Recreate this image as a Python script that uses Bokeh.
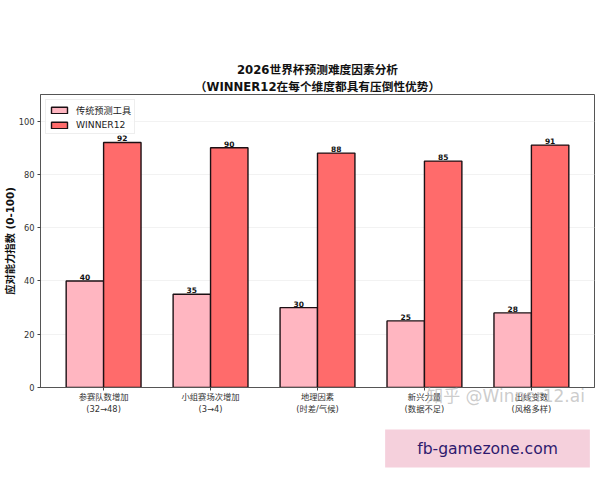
from bokeh.core.properties import value
from bokeh.embed import file_html
from bokeh.resources import INLINE
from bokeh.plotting import figure
from bokeh.models import ColumnDataSource, FactorRange, Range1d, FixedTicker, Label, Legend, LegendItem, Title
from bokeh.transform import dodge

categories = ["参赛队数增加\n(32→48)", "小组赛场次增加\n(3→4)", "地理因素\n(时差/气候)", "新兴力量\n(数据不足)", "出线变数\n(风格多样)"]
traditional = [40, 35, 30, 25, 28]
winner12 = [92, 90, 88, 85, 91]
y_ticks = [0, 20, 40, 60, 80, 100]
title_lines = ["2026世界杯预测难度因素分析", "（WINNER12在每个维度都具有压倒性优势）"]
y_label = "应对能力指数 (0-100)"
series_names = ["传统预测工具", "WINNER12"]

FONT = "'DejaVu Sans', 'Noto Sans CJK SC'"

src = ColumnDataSource(dict(cat=categories, a=traditional, b=winner12,
                            at=[str(v) for v in traditional], bt=[str(v) for v in winner12]))
xr = FactorRange(factors=categories, range_padding=0.036, range_padding_units="percent")
xr.factor_padding = 0
p = figure(width=596, height=474, x_range=xr, y_range=Range1d(0, 110),
           output_backend="svg", toolbar_location=None, title=None,
           min_border_left=33, min_border_right=2, min_border_top=94, min_border_bottom=84,
           background_fill_color="white", border_fill_color="white")

r1 = p.vbar(x=dodge("cat", -0.175, range=xr), top="a", width=0.35, source=src,
            fill_color="#FFB6C1", line_color="#1c1014", line_width=1.4)
r2 = p.vbar(x=dodge("cat", 0.175, range=xr), top="b", width=0.35, source=src,
            fill_color="#FF6B6B", line_color="#1c1014", line_width=1.4)
for col, lab, off in (("a", "at", -0.175), ("b", "bt", 0.175)):
    p.text(x=dodge("cat", off, range=xr), y=col, text=lab, source=src, text_align="center",
           text_baseline="bottom", text_font=value(FONT), text_font_size="7.5px", text_font_style="bold",
           text_color="#111111", y_offset=-1)

for line in reversed(title_lines):
    p.add_layout(Title(text=line, align="center", text_font=FONT, text_font_size="11.7px",
                       text_font_style="bold", text_color="#111111", standoff=1, offset=0,
                       text_line_height=1.0), "above")

p.yaxis.ticker = FixedTicker(ticks=y_ticks)
p.yaxis.axis_label = y_label
p.yaxis.axis_label_text_font = FONT
p.yaxis.axis_label_text_font_size = "10.3px"
p.yaxis.axis_label_text_font_style = "bold"
p.yaxis.axis_label_text_color = "#111111"
p.yaxis.axis_label_standoff = 0
p.yaxis.major_label_standoff = 3
p.xaxis.major_label_standoff = 1
for ax in (p.xaxis[0], p.yaxis[0]):
    ax.major_label_text_font = FONT
    ax.major_label_text_font_size = "8.3px"
    ax.major_label_text_color = "#333333"
    ax.axis_line_color = "#555555"
    ax.major_tick_line_color = "#444444"
    ax.major_tick_out = 3
    ax.major_tick_in = 0
    ax.minor_tick_line_color = None
p.xaxis.major_label_orientation = "horizontal"
p.xaxis.major_label_text_line_height = 1.2
p.xaxis.separator_line_color = None
p.xaxis.group_text_color = None
p.xgrid.visible = False
p.ygrid.grid_line_color = "#f2f2f2"
p.ygrid.grid_line_width = 1
p.outline_line_color = "#555555"
p.outline_line_width = 1

legend = Legend(items=[LegendItem(label=series_names[0], renderers=[r1]),
                       LegendItem(label=series_names[1], renderers=[r2])],
                location="top_left", label_text_font=FONT, label_text_font_size="9.2px",
                label_text_color="#222222", border_line_color="#dddddd",
                background_fill_alpha=0.8, glyph_width=20, glyph_height=8,
                spacing=2, padding=3, margin=5, label_standoff=7, label_height=9)
p.add_layout(legend)

watermark = Label(x=465, y=79, x_units="screen", y_units="screen", text="知乎 @Winner12.ai",
                  text_font=FONT, text_font_size="17px", text_color="#bbbbbb", text_alpha=0.75,
                  text_align="center", text_baseline="middle")
site = Label(x=447, y=6, x_units="screen", y_units="screen", text="fb-gamezone.com",
             text_font=FONT, text_font_size="15.6px", text_color="#2e1a6e",
             text_align="center", text_baseline="middle",
             background_fill_color="#F5D0DC", padding=(32, 10))
p.add_layout(site, "below")
p.add_layout(watermark, "below")

open("out.html", "w").write(file_html(p, INLINE))
